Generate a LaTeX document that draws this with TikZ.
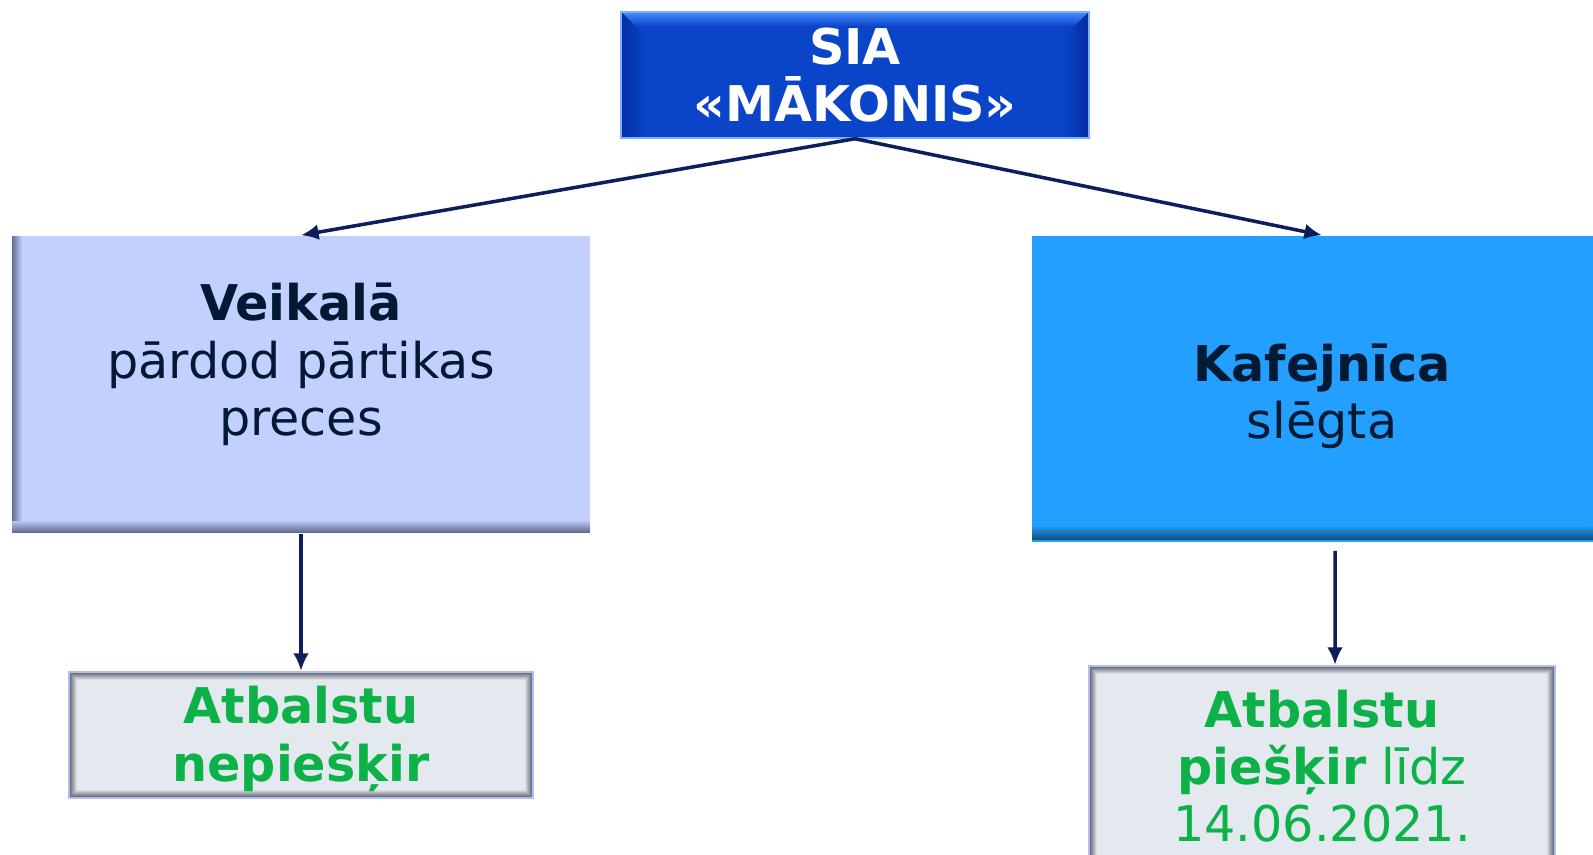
\documentclass[tikz,border=0pt]{standalone}
\usepackage{fontspec}
\setmainfont{DejaVu Sans}
\usetikzlibrary{arrows.meta}
\definecolor{navyline}{RGB}{12,30,92}
\definecolor{darktext}{RGB}{0,26,51}
\definecolor{greentext}{RGB}{12,178,72}
\definecolor{topblue}{RGB}{10,68,200}
\definecolor{topblueup}{RGB}{70,140,255}
\definecolor{topbluedark}{RGB}{5,45,165}
\definecolor{shopfill}{RGB}{195,208,255}
\definecolor{shopshade}{RGB}{100,108,145}
\definecolor{cafefill}{RGB}{35,160,255}
\definecolor{cafeshade}{RGB}{20,80,130}
\definecolor{grantfill}{RGB}{228,232,239}
\definecolor{grantshade}{RGB}{95,96,104}
\definecolor{grantedge}{RGB}{176,190,240}

\begin{document}
\begin{tikzpicture}[x=0.01cm, y=-0.01cm,
	txt/.style={font=\fontsize{14}{16.3}\selectfont, align=center, inner sep=0pt},
	link/.style={draw=navyline, line width=1pt, -{Latex[length=5pt,width=4.5pt]}},
	firmbox/.style={fill=topblue, draw=topblueup!70, line width=0.4pt, minimum width=4.68cm, minimum height=1.26cm, inner sep=0pt,
		path picture={
			\foreach \i in {0,...,13}{
				\pgfmathtruncatemacro\p{100-\i*7}
				\fill[topblueup!\p!topblue] ([yshift=-\i*0.01cm]path picture bounding box.north west) rectangle ([yshift=-\i*0.01cm-0.011cm]path picture bounding box.north east);
			}
			\foreach \i in {0,...,24}{
				\pgfmathtruncatemacro\p{100-\i*4}
				\fill[topbluedark!\p!topblue] ([xshift=\i*0.01cm,yshift=-\i*0.01cm]path picture bounding box.north west) rectangle ([xshift=\i*0.01cm+0.011cm]path picture bounding box.south west);
				\fill[topbluedark!\p!topblue] ([xshift=-\i*0.01cm,yshift=-\i*0.01cm]path picture bounding box.north east) rectangle ([xshift=-\i*0.01cm-0.011cm]path picture bounding box.south east);
			}
		}},
	shopbox/.style={fill=shopfill, minimum width=5.78cm, minimum height=2.97cm, inner sep=0pt,
		path picture={
			\foreach \i in {0,...,9}{
				\pgfmathtruncatemacro\p{100-\i*10}
				\fill[shopshade!\p!shopfill] ([xshift=\i*0.01cm]path picture bounding box.north west) rectangle ([xshift=\i*0.01cm+0.011cm]path picture bounding box.south west);
			}
			\foreach \i in {0,...,11}{
				\pgfmathtruncatemacro\p{100-\i*8}
				\fill[shopshade!\p!shopfill] ([yshift=\i*0.01cm]path picture bounding box.south west) rectangle ([yshift=\i*0.01cm+0.011cm]path picture bounding box.south east);
			}
		}},
	cafebox/.style={fill=cafefill, minimum width=5.8cm, minimum height=3.06cm, inner sep=0pt,
		path picture={
			\foreach \i in {0,...,13}{
				\pgfmathtruncatemacro\p{100-\i*7}
				\fill[cafeshade!\p!cafefill] ([yshift=\i*0.01cm+0.02cm]path picture bounding box.south west) rectangle ([yshift=\i*0.01cm+0.031cm]path picture bounding box.south east);
			}
		}},
	grantbox/.style={fill=grantfill, draw=grantedge, line width=0.6pt, inner sep=0pt,
		path picture={
			\foreach \i in {0,...,7}{
				\pgfmathtruncatemacro\p{100-\i*13}
				\draw[grantshade!\p!grantfill, line width=0.011cm] ([shift={(\i+0.5,\i+0.5)}]path picture bounding box.north west) rectangle ([shift={(-\i-0.5,-\i-0.5)}]path picture bounding box.south east);
			}
		}}]
	\useasboundingbox (0,0) rectangle (1593,855);
	\clip (0,0) rectangle (1593,855);
	\node[firmbox, txt, text=white, font=\fontsize{14}{16.3}\selectfont\bfseries] (sia) at (855,75) {SIA\\«MĀKONIS»};
	\node[shopbox] (veik) at (301,384.5) {};
	\node[txt, text=darktext] (veiktxt) at ([yshift=0.2cm]veik.center) {\textbf{Veikalā}\\pārdod pārtikas\\preces};
	\node[cafebox] (kafe) at (1322,389) {};
	\node[txt, text=darktext] (kafetxt) at ([yshift=-0.07cm]kafe.center) {\textbf{Kafejnīca}\\slēgta};
	\node[grantbox, minimum width=4.64cm, minimum height=1.26cm] (atbn) at (301,735) {};
	\node[txt, text=greentext] (atbntxt) at ([yshift=-0.04cm]atbn.center) {\textbf{Atbalstu}\\\textbf{nepiešķir}};
	\node[grantbox, minimum width=4.66cm, minimum height=2.08cm] (atbp) at (1322,770) {};
	\node[txt, text=greentext] (atbptxt) at ([yshift=0.04cm]atbp.center) {\textbf{Atbalstu}\\\textbf{piešķir} līdz\\14.06.2021.};
	\draw[link] (sia.south) -- (veik.north);
	\draw[link] (sia.south) -- (kafe.north);
	\draw[link] (veik.south) -- (atbn.north);
	\draw[link] ([shift={(13,8)}]kafe.south) -- ([xshift=0.13cm]atbp.north);
\end{tikzpicture}
\end{document}
